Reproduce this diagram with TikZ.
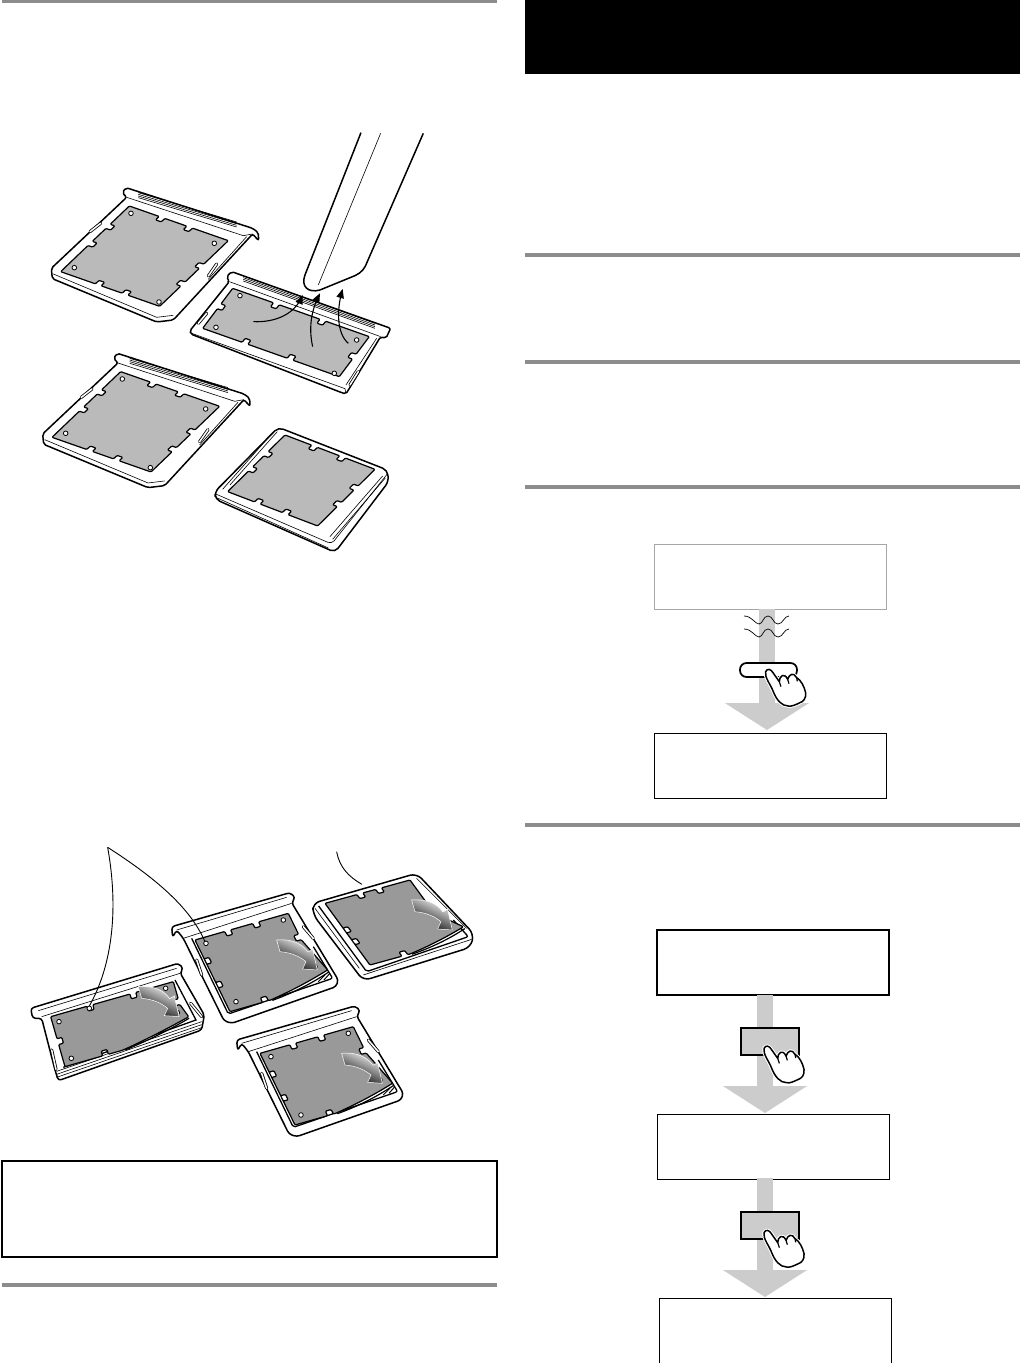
\documentclass[tikz,border=0pt]{standalone}
\usetikzlibrary{arrows}
\usetikzlibrary{arrows.meta}
\usetikzlibrary{positioning}
\definecolor{sheetlight}{gray}{.73}
\definecolor{sheetdark}{gray}{.6}
\definecolor{flowgray}{gray}{.8}
\definecolor{rulegray}{gray}{.55}
\tikzset{>={triangle 45}}
\tikzset{outline/.style={draw=black,fill=white,line width=1.5pt,line join=round}}
\tikzset{hairline/.style={draw=black,line width=.6pt}}
\tikzset{clipbar/.style={draw=black,line width=.8pt,double=white,double distance=1.5pt,line cap=round}}
\tikzset{leader/.style={draw=black,line width=.9pt}}
\tikzset{liftarrow/.style={->,draw=black,line width=1.1pt}}
\tikzset{rulebar/.style={draw=rulegray,line width=3.2pt}}
\tikzset{screenbox/.style={rectangle,draw=black,fill=white,minimum width=232pt,minimum height=65pt,line width=.8pt}}
\tikzset{flowarrow/.style={draw=flowgray,line width=16pt,-{Triangle[width=83pt,length=27pt]}}}
\tikzset{pushkey/.style={rectangle,draw=black,fill=flowgray,line width=1.5pt,minimum width=58pt,minimum height=27pt}}
% the two crops of the upper and the lower drawing
\tikzset{zoomone/.style={shift={(30,120)},x=.3333pt,y=-.3333pt}}
\tikzset{zoomtwo/.style={shift={(20,840)},x=.3333pt,y=-.3333pt}}
\tikzset{axes/.code args={#1,#2,#3,#4,#5,#6}{%
  \pgfmathsetmacro{\nw}{9/veclen(#3-#1,#4-#2)}%
  \pgfmathsetmacro{\nt}{15/veclen(#5-#1,#6-#2)}%
  \pgfmathsetmacro{\mw}{9/veclen(#5-#1,#6-#2)}%
  \pgfmathsetmacro{\mt}{15/veclen(#3-#1,#4-#2)}%
  \tikzset{shift={(#1,#2)},
    x={({(#3pt-#1pt)/3},{(#2pt-#4pt)/3})},
    y={({(#5pt-#1pt)/3},{(#2pt-#6pt)/3})}}}}
% sheet: colour, top cuts, right cuts, corner, bottom cuts, left cuts
\newcommand{\sheet}[6]{%
  \draw[draw=black,line width=1.2pt,fill=#1,rounded corners=1pt,line join=round] (0,0)
    \foreach \s in {#2} { -- ({\s-\nw},0) -- ({\s-\nw},\nt) -- ({\s+\nw},\nt) -- ({\s+\nw},0) }
    -- (1,0)
    \foreach \s in {#3} { -- (1,{\s-\mw}) -- ({1-\mt},{\s-\mw}) -- ({1-\mt},{\s+\mw}) -- (1,{\s+\mw}) }
    #4
    \foreach \s in {#5} { -- ({\s+\nw},1) -- ({\s+\nw},{1-\nt}) -- ({\s-\nw},{1-\nt}) -- ({\s-\nw},1) }
    -- (0,1)
    \foreach \s in {#6} { -- (0,{\s+\mw}) -- (\mt,{\s+\mw}) -- (\mt,{\s-\mw}) -- (0,{\s-\mw}) }
    -- cycle;
}
\newcommand{\holes}[1]{%
  \foreach \p in {#1} { \draw[draw=black,line width=.8pt,fill=white] \p circle (2.3pt); }
}
\newcommand{\foldedge}[3]{-- (#1,#2) .. controls ({#1-.33*(#1-#3)},{#2+.33*(1-#2)+.02}) and ({#1-.67*(#1-#3)},{#2+.67*(1-#2)+.02}) .. (#3,1)}
\newcommand{\foldstrip}[3]{%
  \draw[draw=black,line width=1.2pt] (#1,{#2+.03}) .. controls ({#1-.33*(#1-#3)},{#2+.33*(1-#2)+.06}) and ({#1-.67*(#1-#3)},{#2+.67*(1-#2)+.05}) .. ({#3+.02},1.01);
}
% gradient arrow on the lifted corner
\newcommand{\curlarrow}[2]{%
  \begin{scope}[shift={(#1,#2)}]
    \shadedraw[draw=white,line width=.5pt,left color=white,middle color=black!70,right color=black,shading angle=-25]
      (0,0) .. controls (50,-5) and (80,15) .. (94,36) -- (108,28) -- (122,90) -- (78,87) -- (88,65)
      .. controls (70,50) and (45,38) .. (10,35) -- cycle;
  \end{scope}
}
% upper drawing, tray with a long tab
\newcommand{\tabtray}{%
  \draw[outline,rounded corners=2pt] (290,232) -- (277,218) -- (288,203) -- (668,325) -- (685,338) -- (686,362)
    -- (668,342) -- (430,600) -- (380,606) -- (67,476) -- (64,445) -- cycle;
  \draw[hairline] (290,232) -- (640,347) -- (668,342);
  \foreach \d in {0,5,10,15} { \draw[hairline] (325,{218+\d}) -- (620,{306+\d}); }
  \draw[hairline] (70,462) -- (380,592) -- (430,586);
  \draw[hairline] (650,350) -- (535,478);
  \draw[clipbar] (180,335) -- (212,310);
  \draw[clipbar] (535,468) -- (560,432);
  \begin{scope}[axes={298,258,595,362,92,455}]
    \sheet{sheetlight}{.33,.61}{.39,.66}{-- (1,1)}{.65,.38}{.57,.31}
  \end{scope}
  \holes{(303,280),(553,370),(387,546),(133,443)}
}
% lower drawing, tray with a tab and a hook
\newcommand{\hooktray}{%
  \draw[outline,rounded corners=3pt] (458,292) -- (455,260) -- (810,158) -- (826,172) -- (815,188) -- (955,420)
    -- (948,440) -- (635,550) -- (612,542) -- (490,295) -- (470,270) -- cycle;
  \draw[hairline] (470,270) -- (800,172);
  \draw[hairline] (490,295) -- (815,190);
  \draw[line width=1.3pt,rounded corners=2pt] (515,295) -- (625,522) -- (938,415) -- (880,320);
  \draw[clipbar] (530,360) -- (545,405);
  \draw[clipbar] (850,260) -- (880,295);
  \draw[line width=1pt] (895,425) -- (915,405);
  \draw[line width=1pt] (912,420) -- (928,402);
  \begin{scope}[axes={525,300,805,220,630,515}]
    \sheet{sheetdark}{.35,.65}{.33}{\foldedge{1.11}{.83}{.43}}{.38}{.3,.63}
    \foldstrip{1.11}{.83}{.43}
  \end{scope}
  \holes{(558,310),(790,240),(885,380),(648,485)}
  \curlarrow{770}{300}
}
\begin{document}
\begin{tikzpicture}[x=1pt,y=-1pt]
  \useasboundingbox (0,0) rectangle (1021,1363);

  % page furniture
  \node[rectangle,fill=black,minimum width=495pt,minimum height=74pt,inner sep=0pt] (header) at (772.5,37) {};
  \draw[rulebar] (2,1.5) -- (497,1.5);
  \draw[rulebar] (2,1285) -- (497,1285);
  \foreach \y in {255,362,487,825} { \draw[rulebar] (525,\y) -- (1020,\y); }
  \node[rectangle,draw=black,line width=1.3pt,minimum width=495pt,minimum height=96pt,inner sep=0pt] (note) at (249.5,1209) {};

  % upper drawing
  \begin{scope}[zoomone]
    \tabtray
    \begin{scope}[shift={(-26,497)}]
      \tabtray
    \end{scope}
    % flat tray
    \draw[outline,rounded corners=2pt] (598,485) -- (590,470) -- (605,455) -- (1082,625) -- (1068,655) -- (1052,650)
      -- (948,822) -- (935,818) -- (482,642) -- (480,632) -- cycle;
    \draw[hairline] (598,485) -- (1052,650);
    \foreach \d in {0,5,10,15} { \draw[hairline] (640,{468+\d}) -- (1035,{610+\d}); }
    \draw[hairline] (485,640) -- (945,806) -- (948,820);
    \draw[hairline] (1040,655) -- (948,795);
    \draw[clipbar] (505,610) -- (530,580);
    \draw[clipbar] (960,795) -- (985,755);
    \begin{scope}[axes={608,505,1018,650,518,625}]
      \sheet{sheetlight}{.32,.66}{.5}{-- (1,1)}{.64,.31}{.45}
    \end{scope}
    \holes{(630,527),(980,660),(913,760),(558,622)}
    % square holder
    \draw[outline,rounded corners=5pt] (745,922) -- (1072,1050) -- (1076,1085) -- (915,1297) -- (556,1138) -- (555,1115) -- cycle;
    \draw[hairline,rounded corners=4pt] (557,1122) -- (905,1272) -- (1072,1062);
    \draw[hairline] (562,1134) -- (895,1284);
    \draw[hairline] (742,935) -- (600,1095);
    \draw[hairline] (728,938) -- (578,1108);
    \draw[hairline] (1058,1068) -- (900,1250);
    \draw[hairline] (1066,1074) -- (908,1258);
    \begin{scope}[axes={765,945,1035,1048,593,1115}]
      \sheet{sheetlight}{.33,.64}{.33,.62}{-- (1,1)}{.64,.33}{.6,.33}
    \end{scope}
    % pen
    \draw[outline,fill=white] (993,38) -- (825,465) .. controls (812,500) and (835,520) .. (870,510)
      -- (975,467) .. controls (995,458) and (1005,445) .. (1012,425) -- (1180,40);
    \draw[hairline] (1052,40) -- (865,495);
    % lifted dust
    \coordinate (lifta) at (670,605);
    \coordinate (liftb) at (848,680);
    \coordinate (liftc) at (955,670);
    \coordinate (penone) at (818,525);
    \coordinate (pentwo) at (870,520);
    \coordinate (penthree) at (938,507);
    \draw[liftarrow] (lifta) .. controls (740,608) and (795,580) .. (penone);
    \draw[liftarrow] (liftb) .. controls (835,620) and (845,570) .. (pentwo);
    \draw[liftarrow] (liftc) .. controls (920,640) and (920,570) .. (penthree);
  \end{scope}

  % lower drawing
  \begin{scope}[zoomtwo]
    % flat tray
    \draw[outline,rounded corners=3pt] (38,535) -- (32,505) -- (475,370) -- (490,385) -- (480,398) -- (553,525)
      -- (545,570) -- (115,722) -- (105,690) -- (65,535) -- cycle;
    \draw[hairline] (55,512) -- (470,385);
    \draw[hairline] (65,530) -- (480,400);
    \foreach \d in {0,9,18} { \draw[hairline] (110,{694+\d}) -- (545,{545+\d}); }
    \draw[line width=1.3pt] (465,420) -- (528,540) -- (130,682);
    \draw[clipbar] (95,630) -- (108,688);
    \draw[clipbar] (512,490) -- (545,530);
    \begin{scope}[axes={92,530,460,425,135,680}]
      \sheet{sheetdark}{.32,.67}{.4}{\foldedge{1.04}{.73}{.47}}{.33}{.5}
      \foldstrip{1.04}{.73}{.47}
    \end{scope}
    \holes{(117,545),(437,445),(208,505),(472,518),(154,655)}
    \curlarrow{355}{440}
    % tray with the hook, twice
    \hooktray
    \begin{scope}[shift={(195,340)}]
      \hooktray
    \end{scope}
    % square holder
    \draw[outline,rounded corners=7pt] (878,190) -- (1190,100) -- (1362,282) -- (1352,322) -- (1030,422) -- (880,225) -- cycle;
    \draw[line width=1.3pt,rounded corners=2pt] (896,198) -- (1040,395) -- (1345,290) -- (1300,240);
    \draw[hairline] (885,205) -- (1018,385);
    \draw[hairline] (1190,115) -- (1340,265);
    \draw[hairline] (1030,405) -- (1355,298);
    \begin{scope}[axes={915,190,1170,120,1050,375}]
      \sheet{sheetdark}{.41,.63}{.5}{\foldedge{1.19}{.83}{.47}}{.41}{.44,.63}
      \foldstrip{1.19}{.83}{.47}
    \end{scope}
    \curlarrow{1175}{180}
    % pointers
    \coordinate (apex) at (263,22);
    \coordinate (holeflat) at (208,498);
    \coordinate (holehook) at (555,305);
    \coordinate (tailfree) at (950,35);
    \coordinate (tailedge) at (1026,133);
    \draw[leader] (apex) .. controls (295,200) and (280,370) .. (holeflat);
    \draw[leader] (apex) .. controls (400,110) and (510,200) .. (holehook);
    \draw[leader] (tailfree) .. controls (958,80) and (985,110) .. (tailedge);
  \end{scope}

  % first sequence
  \node[screenbox,draw=black!35,line width=1pt] (msgwait) at (770,576.5) {};
  \node[screenbox,below=123pt of msgwait,line width=1pt] (msgdone) {};
  \draw[flowarrow] (767,609) -- (767,730);
  \draw[hairline,line width=.7pt] (744,616) .. controls (752,616) and (755,624) .. (759,624) .. controls (763,624) and (763,616) .. (768,616)
    .. controls (773,616) and (773,624) .. (778,624) .. controls (783,624) and (784,616) .. (789,616);
  \draw[hairline,line width=.7pt] (744,629) .. controls (752,629) and (755,637) .. (759,637) .. controls (763,637) and (763,629) .. (768,629)
    .. controls (773,629) and (773,637) .. (778,637) .. controls (783,637) and (784,629) .. (789,629);
  \node[rectangle,draw=black,fill=white,line width=1.7pt,rounded corners=6.5pt,minimum width=57pt,minimum height=14pt,inner sep=0pt] (keyone) at (768.5,670) {};

  % second sequence
  \node[screenbox,line width=1.4pt] (menuone) at (773,962.5) {};
  \node[screenbox,below=118pt of menuone] (menutwo) {};
  \node[screenbox,below=118pt of menutwo,xshift=2pt] (menuthree) {};
  \draw[flowarrow] (765,995) -- (765,1113);
  \draw[flowarrow] (765,1178) -- (765,1297);
  \node[pushkey] (keytwo) at (770,1041.5) {};
  \node[pushkey] (keythree) at (770,1225.5) {};

  % the hand on each key
  \foreach \hx/\hy in {768.3/670,766.7/1046.7,766.7/1231} {
    \begin{scope}[shift={(\hx,\hy)},x=.3333pt,y=-.3333pt]
      \path[draw=white,line width=3.5pt,fill=white,line join=round] (15,65) .. controls (8,45) and (-12,22) .. (-8,5) .. controls (-3,-6) and (8,-3) .. (14,8)
        -- (33,35) .. controls (33,18) and (48,6) .. (58,28) .. controls (63,12) and (76,6) .. (85,23)
        .. controls (98,30) and (108,50) .. (112,68) .. controls (114,85) and (105,95) .. (95,98)
        .. controls (80,105) and (70,110) .. (60,108) .. controls (40,108) and (25,90) .. cycle;
      \draw[draw=black,line width=1.5pt,fill=white,line join=round] (15,65) .. controls (8,45) and (-12,22) .. (-8,5) .. controls (-3,-6) and (8,-3) .. (14,8)
        -- (33,35) .. controls (33,18) and (48,6) .. (58,28) .. controls (63,12) and (76,6) .. (85,23)
        .. controls (98,30) and (108,50) .. (112,68) .. controls (114,85) and (105,95) .. (95,98)
        .. controls (80,105) and (70,110) .. (60,108) .. controls (40,108) and (25,90) .. cycle;
      \draw[draw=black,line width=1.2pt] (33,35) -- (38,50);
      \draw[draw=black,line width=1.2pt] (58,28) -- (62,41);
      \draw[draw=black,line width=1.2pt] (85,23) -- (87,34);
    \end{scope}
  }
\end{tikzpicture}
\end{document}
